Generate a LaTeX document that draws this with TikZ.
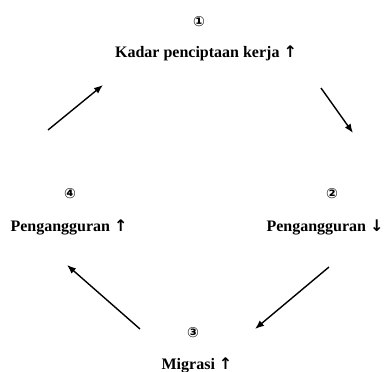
\documentclass[tikz,border=0pt]{standalone}
\usepackage{fontspec}
\setmainfont{Liberation Serif}
\newfontfamily\circfont{DejaVu Sans}
\usetikzlibrary{arrows.meta}
\newcommand\up{{\circfont\bfseries ↑}}
\newcommand\down{{\circfont\bfseries ↓}}
\tikzset{
    num/.style={font=\circfont\bfseries\fontsize{14}{14}\selectfont,inner sep=0pt},
    lbl/.style={font=\bfseries\fontsize{16}{18}\selectfont,inner sep=0pt},
    flow/.style={->,line width=1.4pt,>={Latex[length=9pt,width=7pt]}}
}
\begin{document}
\begin{tikzpicture}[x=1pt,y=-1pt]
    \useasboundingbox (0,0) rectangle (384,372);
    \node (n1) [num] at (199,22) {①};
    \node (kadar) [lbl] at (206,53) {Kadar penciptaan kerja \up};
    \node (n2) [num] at (332,194) {②};
    \node (turun) [lbl] at (325,227) {Pengangguran \down};
    \node (n3) [num] at (193,333) {③};
    \node (migrasi) [lbl] at (197,365) {Migrasi \up};
    \node (n4) [num] at (70,194) {④};
    \node (naik) [lbl] at (69,227) {Pengangguran \up};
    \coordinate (a1) at (48,130);  \coordinate (b1) at (103,85);
    \coordinate (a2) at (321,88);  \coordinate (b2) at (353,133);
    \coordinate (a3) at (329,267); \coordinate (b3) at (255,329);
    \coordinate (a4) at (140,329); \coordinate (b4) at (67,265);
    \draw [flow] (a1) -- (b1);
    \draw [flow] (a2) -- (b2);
    \draw [flow] (a3) -- (b3);
    \draw [flow] (a4) -- (b4);
\end{tikzpicture}
\end{document}
